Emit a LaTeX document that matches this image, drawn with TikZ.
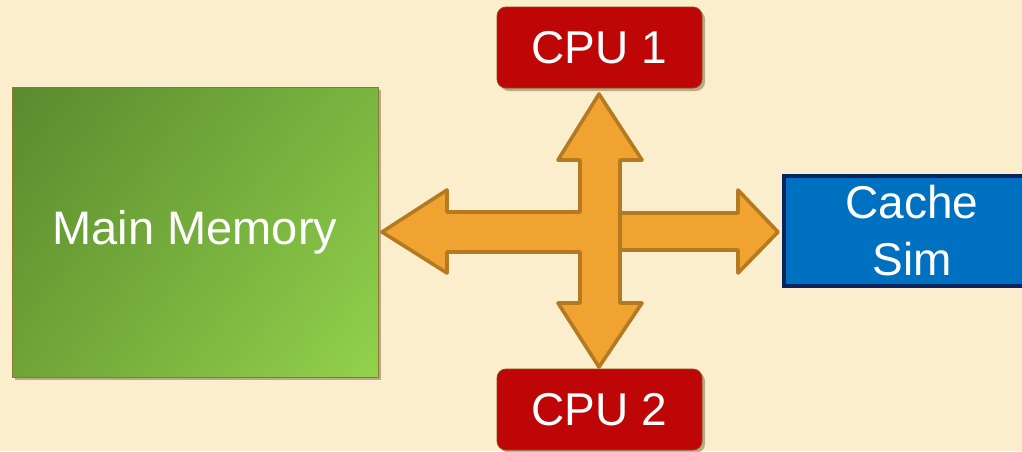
\documentclass[tikz,border=0pt]{standalone}
\usepackage{fontspec}
\setmainfont{Liberation Sans}
\usetikzlibrary{shadows,shadings}
\definecolor{bg}{HTML}{FBEECD}
\definecolor{arrowfill}{HTML}{F0A331}
\definecolor{arrowline}{HTML}{B47A22}
\definecolor{cpured}{HTML}{BE0606}
\definecolor{cpuline}{HTML}{8A4A10}
\definecolor{cacheblue}{HTML}{0070C0}
\definecolor{cacheline}{HTML}{0A2460}
\definecolor{gUL}{HTML}{5A8A2E}
\definecolor{gUR}{HTML}{7AB540}
\definecolor{gLL}{HTML}{6FA437}
\definecolor{gLR}{HTML}{92D24C}
\definecolor{memline}{HTML}{8A7A30}
\definecolor{shadowcol}{HTML}{6A5A30}
\tikzset{
  boxshadow/.style={drop shadow={shadow xshift=3pt, shadow yshift=-3pt, opacity=0.45, fill=shadowcol}},
  txt/.style={text=white, font=\fontsize{46}{58}\selectfont},
  membox/.style={txt, font=\fontsize{47}{56}\selectfont, upper left=gUL, upper right=gUR, lower left=gLL, lower right=gLR,
    draw=memline, line width=0.8pt, minimum width=366pt, minimum height=290pt, inner sep=0pt, boxshadow},
  cpubox/.style={txt, rounded corners=9pt, fill=cpured, draw=cpuline, line width=0.8pt,
    minimum width=205pt, minimum height=81pt, inner sep=0pt, boxshadow},
  cachebox/.style={txt, fill=cacheblue, draw=cacheline, line width=4pt, align=center,
    minimum width=256pt, minimum height=110pt, inner sep=0pt},
  bigarrow/.style={fill=arrowfill, draw=arrowline, line width=3.6pt, line join=round}
}
\begin{document}
\begin{tikzpicture}[x=1pt,y=-1pt]
\fill[bg] (0,0) rectangle (1022,451);
\clip (0,0) rectangle (1022,451);
\node[membox] (mem) at (195,232) {\raisebox{-3pt}{Main Memory}};
\node[cpubox] (cpu1) at (599.5,47.5) {\raisebox{-1pt}{CPU 1}};
\node[cpubox] (cpu2) at (599.5,409.5) {\raisebox{-1pt}{CPU 2}};
\node[cachebox] (cache) at (912,231) {Cache\\[-1pt]Sim};
% right arrow (behind)
\draw[bigarrow] (598,213) -- (738,213) -- (738,190) -- (778,232) -- (738,273) -- (738,250) -- (598,250) -- cycle;
% left + vertical arrow
\draw[bigarrow] (382,232) -- (447,190) -- (447,212) -- (580,212) -- (580,160) -- (558,160)
  -- (599,94) -- (642,160) -- (620,160) -- (620,303) -- (642,303) -- (599,367)
  -- (558,303) -- (580,303) -- (580,252) -- (447,252) -- (447,273) -- cycle;
\end{tikzpicture}
\end{document}
